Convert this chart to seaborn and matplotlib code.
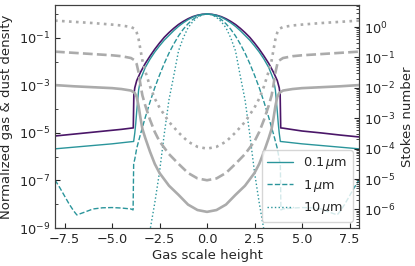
import numpy as np
import pandas as pd
import matplotlib
matplotlib.use("Agg")
import matplotlib.pyplot as plt
from matplotlib.lines import Line2D
from matplotlib.ticker import FixedLocator, NullFormatter, LogFormatterSciNotation
import seaborn as sns

# ---------------- data (log10 values) ----------------
z_gas = [-8, -7, -6, -5, -4.5, -4, -3.88, -3.85, -3.8, -3.7, -3.5, -3.25, -3, -2.75, -2.5, -2.25, -2,
         -1.75, -1.5, -1.25, -1, -0.75, -0.5, -0.25, 0, 0.25, 0.5, 0.75, 1, 1.25, 1.5, 1.75, 2, 2.25,
         2.5, 2.75, 3, 3.25, 3.5, 3.7, 3.8, 3.85, 3.88, 4, 4.5, 5, 6, 7, 8]
gas_log = [-5.13, -5.05, -4.97, -4.89, -4.85, -4.8, -4.79, -3.4, -3.1, -2.8, -2.45, -2.08, -1.77, -1.48,
           -1.22, -0.98, -0.78, -0.6, -0.44, -0.31, -0.2, -0.11, -0.05, -0.012, 0, -0.012, -0.05, -0.11,
           -0.2, -0.31, -0.44, -0.6, -0.78, -0.98, -1.22, -1.48, -1.77, -2.08, -2.45, -2.8, -3.1, -3.4,
           -4.79, -4.8, -4.86, -4.92, -5.0, -5.09, -5.17]

z_d01 = [-8, -7, -6, -5, -4.1, -3.86, -3.8, -3.75, -3.7, -3.6, -3.5, -3.25, -3, -2.75, -2.5, -2.25, -2,
         -1.75, -1.5, -1.25, -1, -0.75, -0.5, -0.25, 0, 0.25, 0.5, 0.75, 1, 1.25, 1.5, 1.75, 2, 2.25,
         2.5, 2.75, 3, 3.25, 3.5, 3.6, 3.7, 3.75, 3.8, 3.86, 4.1, 5, 6, 7, 8]
d01_log = [-5.67, -5.6, -5.53, -5.46, -5.38, -5.36, -5.0, -4.6, -4.1, -3.2, -2.75, -2.25, -1.9, -1.6,
           -1.34, -1.1, -0.9, -0.7, -0.52, -0.37, -0.24, -0.13, -0.055, -0.014, 0, -0.014, -0.055, -0.13,
           -0.24, -0.37, -0.52, -0.7, -0.9, -1.1, -1.34, -1.6, -1.9, -2.25, -2.75, -3.2, -4.1, -4.6,
           -5.0, -5.36, -5.38, -5.46, -5.53, -5.6, -5.67]

z_d1 = [-8, -7.75, -7.5, -7.25, -7, -6.85, -6.5, -6, -5.5, -5, -4.5, -4, -3.89, -3.86, -3.8, -3.7, -3.5,
        -3.25, -3, -2.75, -2.5, -2.25, -2, -1.75, -1.5, -1.25, -1, -0.75, -0.5, -0.25, 0, 0.25, 0.5, 0.75,
        1, 1.25, 1.5, 1.75, 2, 2.25, 2.5, 2.75, 3, 3.25, 3.5, 3.7, 3.8, 3.86, 3.89, 4, 4.5, 5, 5.5, 6,
        6.5, 6.85, 7, 7.25, 7.5, 7.75, 8]
d1_log = [-6.98, -7.3, -7.65, -8.0, -8.3, -8.45, -8.35, -8.2, -8.15, -8.14, -8.16, -8.2, -8.24, -6.3, -6.1,
          -5.65, -5.05, -4.35, -3.7, -3.1, -2.57, -2.08, -1.64, -1.26, -0.92, -0.64, -0.41, -0.23, -0.1,
          -0.025, 0, -0.025, -0.1, -0.23, -0.41, -0.64, -0.92, -1.26, -1.64, -2.08, -2.57, -3.1, -3.7,
          -4.35, -5.05, -5.65, -6.1, -6.3, -8.24, -8.2, -8.16, -8.14, -8.15, -8.2, -8.35, -8.45, -8.3,
          -8.0, -7.65, -7.3, -6.98]

z_d10 = [-3.1, -3, -2.75, -2.5, -2.25, -2, -1.75, -1.5, -1.25, -1, -0.75, -0.5, -0.25, 0, 0.25, 0.5,
         0.75, 1, 1.25, 1.5, 1.75, 2, 2.25, 2.5, 2.75, 3, 3.1]
d10_log = [-9.6, -9.1, -7.95, -6.65, -5.05, -3.6, -2.6, -1.55, -1.0, -0.58, -0.32, -0.14, -0.035, 0,
           -0.035, -0.14, -0.32, -0.58, -1.0, -1.55, -2.6, -3.6, -5.05, -6.65, -7.95, -9.1, -9.6]

z_st = [-8, -7, -6, -5, -4.5, -4, -3.8, -3.7, -3.6, -3.5, -3.4, -3.25, -3, -2.75, -2.5, -2, -1.5, -1,
        -0.5, 0, 0.5, 1, 1.5, 2, 2.5, 2.75, 3, 3.25, 3.4, 3.5, 3.6, 3.7, 3.8, 4, 4.5, 5, 6, 7, 8]
st01_log = [-1.91, -1.95, -1.98, -2.01, -2.04, -2.09, -2.17, -2.3, -2.6, -3.0, -3.35, -3.65, -4.1, -4.5,
            -4.8, -5.22, -5.52, -5.84, -6.02, -6.08, -6.02, -5.84, -5.52, -5.22, -4.8, -4.5, -4.1, -3.65,
            -3.35, -3.0, -2.6, -2.3, -2.17, -2.09, -2.04, -2.01, -1.98, -1.95, -1.91]
st1_log = [-0.81, -0.85, -0.89, -0.93, -0.96, -1.02, -1.1, -1.22, -1.5, -1.9, -2.25, -2.58, -3.05, -3.45,
           -3.76, -4.18, -4.5, -4.8, -4.98, -5.04, -4.98, -4.8, -4.5, -4.18, -3.76, -3.45, -3.05, -2.58,
           -2.25, -1.9, -1.5, -1.22, -1.1, -1.02, -0.96, -0.93, -0.89, -0.85, -0.81]
st10_log = [0.21, 0.17, 0.13, 0.08, 0.05, 0.0, -0.06, -0.18, -0.4, -0.75, -1.1, -1.45, -1.95, -2.35,
            -2.65, -3.12, -3.47, -3.77, -3.94, -4.0, -3.94, -3.77, -3.47, -3.12, -2.65, -2.35, -1.95,
            -1.45, -1.1, -0.75, -0.4, -0.18, -0.06, 0.0, 0.05, 0.08, 0.13, 0.17, 0.21]

x_ticks = [-7.5, -5.0, -2.5, 0.0, 2.5, 5.0, 7.5]
left_ticks = [1e-9, 1e-7, 1e-5, 1e-3, 1e-1]
right_ticks = [1e-6, 1e-5, 1e-4, 1e-3, 1e-2, 1e-1, 1e0]
size_labels = [r"0.1$\,\mu$m", r"1$\,\mu$m", r"10$\,\mu$m"]

# ---------------- style ----------------
sns.set_style("ticks")
plt.rcParams["font.family"] = ["DejaVu Sans"]
plt.rcParams["font.size"] = 9
plt.rcParams["mathtext.fontset"] = "dejavusans"

PURPLE = "#4a1668"
TEAL = "#2a959b"
GRAY = "#ababab"

fig = plt.figure(figsize=(4.15, 2.66), dpi=100)
ax = fig.add_axes([55 / 415, 38 / 266, 304 / 415, 223 / 266])
ax2 = ax.twinx()

def pw(a):
    return np.power(10.0, np.asarray(a, dtype=float))

# gray Stokes numbers (right axis)
for vals, ls in [(st01_log, "-"), (st1_log, "--"), (st10_log, ":")]:
    sns.lineplot(x=z_st, y=pw(vals), ax=ax2, color=GRAY, linestyle=ls, lw=1.9,
                 estimator=None, sort=False)

# densities (left axis)
sns.lineplot(x=z_gas, y=pw(gas_log), ax=ax, color=PURPLE, lw=1.2, estimator=None, sort=False)
sns.lineplot(x=z_d01, y=pw(d01_log), ax=ax, color=TEAL, lw=1.0, linestyle="-", estimator=None, sort=False)
sns.lineplot(x=z_d1, y=pw(d1_log), ax=ax, color=TEAL, lw=1.0, linestyle="--", estimator=None, sort=False)
sns.lineplot(x=z_d10, y=pw(d10_log), ax=ax, color=TEAL, lw=1.0, linestyle=":", estimator=None, sort=False)

ax.set_yscale("log")
ax2.set_yscale("log")
ax.set_xlim(-8, 8)
y1 = (1e-9, 2.4)
y2 = (2.45e-7, 5.3)
ax.set_ylim(*y1)
ax2.set_ylim(*y2)
ax.xaxis.set_major_locator(FixedLocator(x_ticks))
ax.set_xticklabels([f"{t:.1f}".replace("-", "\u2212") for t in x_ticks])

ax.yaxis.set_major_locator(FixedLocator(left_ticks))
ax.yaxis.set_major_formatter(LogFormatterSciNotation())
ax.yaxis.set_minor_locator(FixedLocator([1e-8, 1e-6, 1e-4, 1e-2, 1e0]))
ax.yaxis.set_minor_formatter(NullFormatter())

ax2.yaxis.set_major_locator(FixedLocator(right_ticks))
ax2.yaxis.set_major_formatter(LogFormatterSciNotation())
minor2 = [k * 10.0 ** e for e in range(-7, 1) for k in range(2, 10)]
minor2 = [m for m in minor2 if y2[0] <= m <= y2[1]]
ax2.yaxis.set_minor_locator(FixedLocator(minor2))
ax2.yaxis.set_minor_formatter(NullFormatter())

ax.set_xlabel("Gas scale height", fontsize=9.5, labelpad=2)
ax.set_ylabel("Normalized gas & dust density", fontsize=9.5)
ax2.set_ylabel("Stokes number", fontsize=9.5)

for a in (ax, ax2):
    a.tick_params(direction="in", which="both", labelsize=9.3)
    for s in a.spines.values():
        s.set_color("0.25")

handles = [Line2D([], [], color=TEAL, lw=1.0, linestyle=ls) for ls in ["-", "--", ":"]]
ax2.legend(handles, size_labels, loc="lower right", fontsize=9.3)

fig.savefig("out.png", dpi=100)
